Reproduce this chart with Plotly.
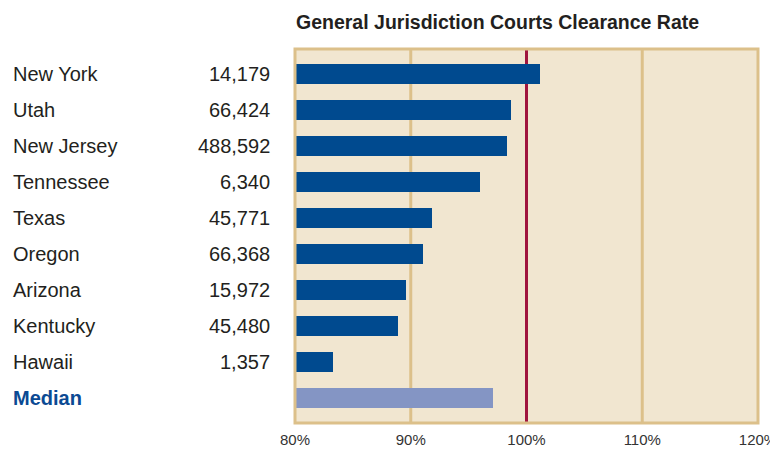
import plotly.graph_objects as go

states = ["New York", "Utah", "New Jersey", "Tennessee", "Texas", "Oregon",
          "Arizona", "Kentucky", "Hawaii", "Median"]
filings = ["14,179", "66,424", "488,592", "6,340", "45,771", "66,368",
           "15,972", "45,480", "1,357", ""]
clearance = [101.2, 98.7, 98.3, 96.0, 91.8, 91.1, 89.6, 88.9, 83.3, 97.1]
tick_vals = [80, 90, 100, 110, 120]
tick_text = ["80%", "90%", "100%", "110%", "120%"]
grid_vals = [90, 110]
target = 100

# page has an 8px body margin; figure coordinates = page coordinates - 8
OFF = 8
W, H = 770, 442
ML, MR, MT, MB = 287, 20, 41, 27
PW = W - ML - MR

bar_colors = ["#004a8f"] * (len(states) - 1) + ["#8495c4"]

fig = go.Figure()
fig.add_trace(go.Bar(
    y=states, x=[c - 80 for c in clearance], base=80, orientation="h",
    marker=dict(color=bar_colors, line=dict(width=0)),
    width=0.556, hoverinfo="skip",
))

FONT = "Liberation Sans, Arial, sans-serif"
TXT = "#231f20"
TAN = "#dcc08a"

def px_x(page_x):
    return (page_x - OFF - ML) / PW

annotations = []
for s, f in zip(states, filings):
    is_med = s == "Median"
    annotations.append(dict(
        xref="paper", yref="y", x=px_x(11), y=s, xanchor="left", yanchor="middle",
        text=f"<b>{s}</b>" if is_med else s, showarrow=False,
        font=dict(family=FONT, size=20, color="#0b4a93" if is_med else TXT),
    ))
    if f:
        annotations.append(dict(
            xref="paper", yref="y", x=px_x(272), y=s, xanchor="right", yanchor="middle",
            text=f, showarrow=False, font=dict(family=FONT, size=20, color=TXT),
        ))

annotations.append(dict(
    xref="paper", yref="paper", x=px_x(294), y=1 + (MT - (22 - OFF)) / (H - MT - MB),
    xanchor="left", yanchor="middle", showarrow=False,
    text="<b>General Jurisdiction Courts Clearance Rate</b>",
    font=dict(family=FONT, size=19.5, color=TXT),
))

shapes = [dict(type="line", xref="x", yref="paper", x0=g, x1=g, y0=0, y1=1,
               line=dict(color=TAN, width=3), layer="below") for g in grid_vals]
shapes += [
    dict(type="line", xref="x", yref="paper", x0=target, x1=target, y0=0, y1=1,
         line=dict(color="#a0153e", width=3), layer="below"),
    dict(type="rect", xref="paper", yref="paper", x0=0, x1=1, y0=0, y1=1,
         line=dict(color=TAN, width=3), layer="above"),
]

fig.update_layout(
    width=W, height=H,
    margin=dict(l=ML, r=MR, t=MT, b=MB, autoexpand=False),
    paper_bgcolor="white", plot_bgcolor="#f1e6d0",
    showlegend=False, bargap=0,
    font=dict(family=FONT, color=TXT),
    xaxis=dict(range=[80, 120], tickvals=tick_vals, ticktext=tick_text,
               showgrid=False, zeroline=False,
               ticks="outside", ticklen=3, tickcolor="rgba(0,0,0,0)",
               tickfont=dict(family=FONT, size=15, color="#333333"),
               showline=False, fixedrange=True, automargin=False),
    yaxis=dict(categoryorder="array", categoryarray=states, autorange=False,
               range=[len(states) - 1 + 0.694, -0.694],
               showticklabels=False, showgrid=False, zeroline=False, ticks="",
               fixedrange=True, automargin=False),
    annotations=annotations, shapes=shapes,
)

fig.write_html("out.html")
